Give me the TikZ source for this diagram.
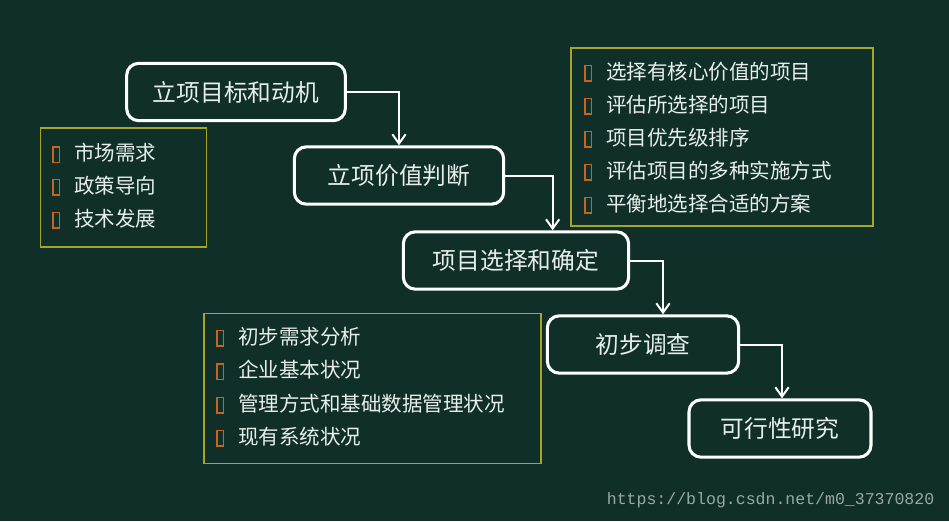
\documentclass[tikz,border=0pt]{standalone}
\usepackage{fontspec}
\setmainfont{Noto Sans CJK SC}
\newfontfamily\wmfont{Liberation Mono}
\usepackage{xcolor}
\usepackage{tikz}
\usetikzlibrary{positioning,arrows.meta}
\definecolor{tbg}{HTML}{0F2F28}
\definecolor{tolive}{HTML}{A6A52A}
\definecolor{tbul}{HTML}{C8641E}
\definecolor{ttext}{HTML}{E8EEEB}
\definecolor{twm}{HTML}{9AA8A3}
\newcommand{\blt}{\raisebox{-0.8pt}{\color{tbul}\setlength{\fboxsep}{0pt}\setlength{\fboxrule}{1.1pt}\fbox{\rule{0pt}{10.5pt}\hspace{3.6pt}}}\hspace{10.5pt}}

\begin{document}
\begin{tikzpicture}[x=0.75pt, y=-0.75pt, text=ttext,
  stage/.style={draw=white, line width=2.3pt, rounded corners=9pt, minimum height=43pt, font=\fontsize{17.8}{20}\selectfont},
  listbox/.style={draw=tolive, line width=1.4pt},
  itm/.style={anchor=west, inner sep=0pt, font=\fontsize{15.4}{18}\selectfont},
  wmark/.style={anchor=east, text=twm, font=\wmfont\fontsize{12.4}{14}\selectfont},
  arr/.style={-{Straight Barb[length=7pt, width=10pt, line width=1.5pt]}, draw=white, line width=1.5pt}]
\fill[tbg] (0,0) rectangle (949,521);
% detail boxes
\node[listbox, minimum width=124.5pt, minimum height=89pt] (la) at (123.5,187.5) {};
\node[listbox, minimum width=226.5pt, minimum height=133.5pt] (lb) at (722,137) {};
\node[listbox, minimum width=252.75pt, minimum height=112.5pt] (lc) at (372.5,388.5) {};
\foreach \t [count=\i] in {市场需求,政策导向,技术发展}
  \node[itm] (a\i) at (52,{153+33*(\i-1)}) {\blt\t};
\foreach \t [count=\i] in {选择有核心价值的项目,评估所选择的项目,项目优先级排序,评估项目的多种实施方式,平衡地选择合适的方案}
  \node[itm] (b\i) at (584,{72+33*(\i-1)}) {\blt\t};
\foreach \t [count=\i] in {初步需求分析,企业基本状况,管理方式和基础数据管理状况,现有系统状况}
  \node[itm] (c\i) at (216,{337+33.3*(\i-1)}) {\blt\t};
% stages
\node[stage, minimum width=164pt] (s1) at (236,92) {立项目标和动机};
\node[stage, minimum width=157pt] (s2) at (399,175.5) {立项价值判断};
\node[stage, minimum width=169pt] (s3) at (516,260.5) {项目选择和确定};
\node[stage, minimum width=143.5pt] (s4) at (643,344.5) {初步调查};
\node[stage, minimum width=136.5pt] (s5) at (780,428.5) {可行性研究};
\draw[arr] (s1.east) -| (s2.north); \draw[arr] (s2.east) -| ([xshift=27.5pt]s3.north);
\draw[arr] (s3.east) -| ([xshift=15pt]s4.north); \draw[arr] (s4.east) -| ([xshift=1.5pt]s5.north);
\node[wmark] (wm) at (939,500) {https://blog.csdn.net/m0\_37370820};
\end{tikzpicture}
\end{document}
